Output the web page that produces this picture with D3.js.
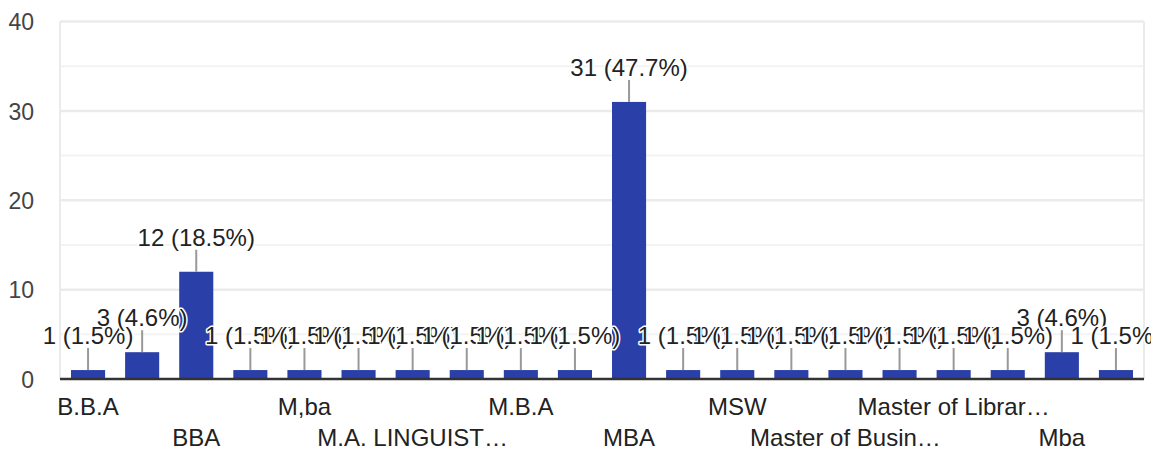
<!DOCTYPE html>
<html><head><meta charset="utf-8">
<script src="https://cdn.jsdelivr.net/npm/d3@7"></script>
<style>html,body{margin:0;padding:0;background:#fff;overflow:hidden}</style>
</head><body>
<svg id="c" width="1151" height="453"></svg>
<script>
const categories = ["B.B.A","BA","BBA","BCA","M,ba","M.A. ENGLISH","M.A. LINGUISTICS","M.A. Sociology","M.B.A","M.Com","MBA","MCA","MSW","Master of Arts","Master of Business Administration","Master of Commerce","Master of Library Science","Master of Social Work","Mba","Msw"];
const values = [1,3,12,1,1,1,1,1,1,1,31,1,1,1,1,1,1,1,3,1];
const yTicks = [0,10,20,30,40];
const yMinorTicks = [5,15,25,35];

const total = d3.sum(values);
const svg = d3.select("#c");
const font = "'Liberation Sans', Arial, sans-serif";
const fs = 24;

const x = d3.scaleBand().domain(categories).range([61, 1143]).paddingInner(0.37).paddingOuter(0.185);
const y = d3.scaleLinear().domain([0, 40]).range([379, 21.5]);

// minor gridlines
svg.append("g").selectAll("line").data(yMinorTicks).join("line")
  .attr("x1", 60).attr("x2", 1144).attr("y1", d => y(d)).attr("y2", d => y(d))
  .attr("stroke", "#f3f3f3").attr("stroke-width", 2);
// major gridlines
svg.append("g").selectAll("line").data(yTicks.filter(d => d > 0)).join("line")
  .attr("x1", 60).attr("x2", 1144).attr("y1", d => y(d)).attr("y2", d => y(d))
  .attr("stroke", "#ebebeb").attr("stroke-width", 2.5);
// side borders
svg.append("line").attr("x1", 60).attr("x2", 60).attr("y1", y(40)).attr("y2", y(0)).attr("stroke", "#ebebeb").attr("stroke-width", 2);
svg.append("line").attr("x1", 1144).attr("x2", 1144).attr("y1", y(40)).attr("y2", y(0)).attr("stroke", "#ebebeb").attr("stroke-width", 2);

// y axis labels
const yAxis = d3.axisLeft(y).tickValues(yTicks).tickSize(0).tickPadding(0);
const ya = svg.append("g").attr("transform", "translate(34,0)").call(yAxis);
ya.select(".domain").remove();
ya.selectAll("text").attr("font-family", font).attr("font-size", 23).attr("fill", "#444").attr("dy", "0.36em");

// bars
svg.append("g").selectAll("rect").data(values).join("rect")
  .attr("x", (d, i) => x(categories[i])).attr("width", x.bandwidth())
  .attr("y", d => y(d)).attr("height", d => y(0) - y(d))
  .attr("fill", "#2a3fa8");

// baseline axis
svg.append("line").attr("x1", 60).attr("x2", 1144).attr("y1", y(0)).attr("y2", y(0)).attr("stroke", "#333").attr("stroke-width", 2.5);

// x labels (alternating rows, even indices only)
const maxW = 193;
const xl = svg.append("g");
categories.forEach((c, i) => {
  if (i % 2 !== 0) return;
  const row = (i % 4 === 0) ? 0 : 1;
  const t = xl.append("text")
    .attr("x", x(c) + x.bandwidth() / 2).attr("y", row === 0 ? 415 : 446)
    .attr("text-anchor", "middle").attr("font-family", font).attr("font-size", fs).attr("fill", "#222")
    .text(c);
  if (t.node().getComputedTextLength() > maxW) {
    let s = c;
    while (s.length > 1) {
      s = s.slice(0, -1);
      t.text(s.trimEnd() + "…");
      if (t.node().getComputedTextLength() <= maxW) break;
    }
  }
});

// value labels with stems
const lg = svg.append("g");
values.forEach((v, i) => {
  const cx = x(categories[i]) + x.bandwidth() / 2;
  const top = y(v);
  lg.append("line").attr("x1", cx).attr("x2", cx).attr("y1", top - 22).attr("y2", top)
    .attr("stroke", "#999").attr("stroke-width", 2);
  lg.append("text").attr("x", cx).attr("y", top - 26)
    .attr("text-anchor", "middle").attr("font-family", font).attr("font-size", fs)
    .attr("fill", "#222").attr("stroke", "#fff").attr("stroke-width", 3)
    .attr("paint-order", "stroke").attr("stroke-linejoin", "round")
    .text(`${v} (${(v / total * 100).toFixed(1)}%)`);
});
</script>
</body></html>
